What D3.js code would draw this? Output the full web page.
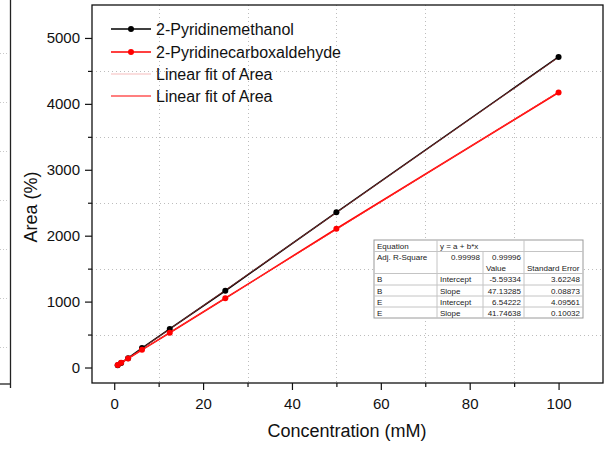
<!DOCTYPE html>
<html>
<head>
<meta charset="utf-8">
<script src="https://cdn.jsdelivr.net/npm/d3@7"></script>
<style>
	body { margin: 0; background: #fff; }
	svg { display: block; font-family: Arial, 'Liberation Sans', sans-serif; }
</style>
</head>
<body>
<div id="chart_div"></div>
<script>
// data
var concentrations = [0.78, 1.56, 3.125, 6.25, 12.5, 25, 50, 100];
var methanol_area = [35, 70, 142, 295, 585, 1165, 2355, 4712];
var aldehyde_area = [39, 72, 137, 268, 528, 1050, 2106, 4173];
var series_names = ['2-Pyridinemethanol', '2-Pyridinecarboxaldehyde'];
var fit_names = ['Linear fit of Area', 'Linear fit of Area'];
var fit_intercepts = [-5.59334, 6.54222];
var fit_slopes = [47.13285, 41.74638];
var x_ticks = [0, 20, 40, 60, 80, 100];
var x_minor = [10, 30, 50, 70, 90];
var y_ticks = [0, 1000, 2000, 3000, 4000, 5000];
var y_minor = [500, 1500, 2500, 3500, 4500];
var table_rows = [
	['Equation', 'y = a + b*x', '', ''],
	['Adj. R-Square', '0.99998', '0.99996', ''],
	['', '', 'Value', 'Standard Error'],
	['B', 'Intercept', '-5.59334', '3.62248'],
	['B', 'Slope', '47.13285', '0.08873'],
	['E', 'Intercept', '6.54222', '4.09561'],
	['E', 'Slope', '41.74638', '0.10032']
];

var width = 604;
var height = 450;
var frame = { left: 92, top: 5, right: 603, bottom: 383 };

var svg = d3
	.select('#chart_div')
	.append('svg')
	.attr('width', width)
	.attr('height', height);

var x = d3.scaleLinear().domain([-5, 110]).range([frame.left, frame.right]);
var y = d3.scaleLinear().domain([-235, 5500]).range([frame.bottom, frame.top]);

draw_side_panel(svg);
draw_grid(svg);
draw_axes(svg);
draw_series(svg);
draw_legend(svg);
draw_table(svg);

function draw_side_panel(svg) {
	//edge of the neighbouring panel
	svg.append('g')
		.selectAll('line')
		.data(d3.range(53, 350, 49))
		.enter()
		.append('line')
		.attr('x1', 0)
		.attr('x2', 9)
		.attr('y1', (d) => d + 0.5)
		.attr('y2', (d) => d + 0.5)
		.attr('stroke', '#c8c8c8')
		.attr('stroke-dasharray', '1,2');
	svg.append('line')
		.attr('x1', 10.5)
		.attr('x2', 10.5)
		.attr('y1', 0)
		.attr('y2', 388)
		.attr('stroke', '#222')
		.attr('stroke-width', 1.3);
	svg.append('line')
		.attr('x1', 0)
		.attr('x2', 10.5)
		.attr('y1', 384)
		.attr('y2', 384)
		.attr('stroke', '#222')
		.attr('stroke-width', 1.3);
}

function draw_grid(svg) {
	var grid = svg.append('g').attr('class', 'grid');
	grid.selectAll('.grid_x')
		.data(x_minor)
		.enter()
		.append('line')
		.attr('x1', (d) => Math.round(x(d)) + 0.5)
		.attr('x2', (d) => Math.round(x(d)) + 0.5)
		.attr('y1', frame.top)
		.attr('y2', frame.bottom)
		.attr('stroke', '#bdbdbd')
		.attr('stroke-dasharray', '1,3');
	grid.selectAll('.grid_y')
		.data(y_minor)
		.enter()
		.append('line')
		.attr('x1', frame.left)
		.attr('x2', frame.right)
		.attr('y1', (d) => Math.round(y(d)) + 0.5)
		.attr('y2', (d) => Math.round(y(d)) + 0.5)
		.attr('stroke', '#bdbdbd')
		.attr('stroke-dasharray', '1,3');
}

function draw_axes(svg) {
	var plain = d3.format('d');
	svg.append('g')
		.attr('transform', 'translate(0,' + frame.bottom + ')')
		.call(d3.axisBottom(x).tickValues(x_ticks).tickFormat(plain).tickSize(7).tickPadding(8));
	svg.append('g')
		.attr('transform', 'translate(0,' + frame.bottom + ')')
		.call(d3.axisBottom(x).tickValues(x_minor).tickSize(4).tickFormat(''));
	svg.append('g')
		.attr('transform', 'translate(' + frame.left + ',0)')
		.call(d3.axisLeft(y).tickValues(y_ticks).tickFormat(plain).tickSize(7).tickPadding(5));
	svg.append('g')
		.attr('transform', 'translate(' + frame.left + ',0)')
		.call(d3.axisLeft(y).tickValues(y_minor).tickSize(4).tickFormat(''));

	svg.selectAll('.domain').remove();
	svg.selectAll('.tick line').attr('stroke', '#111').attr('stroke-width', 1.2);
	svg.selectAll('.tick text')
		.attr('font-family', 'Arial, Liberation Sans, sans-serif')
		.attr('font-size', 15)
		.attr('fill', '#111');

	svg.append('rect')
		.attr('x', frame.left)
		.attr('y', frame.top)
		.attr('width', frame.right - frame.left)
		.attr('height', frame.bottom - frame.top)
		.attr('fill', 'none')
		.attr('stroke', '#111')
		.attr('stroke-width', 1.3);

	svg.append('text')
		.attr('x', 347)
		.attr('y', 437)
		.attr('text-anchor', 'middle')
		.attr('font-size', 18)
		.attr('fill', '#111')
		.text('Concentration (mM)');

	svg.append('text')
		.attr('transform', 'translate(36.5,207) rotate(-90)')
		.attr('text-anchor', 'middle')
		.attr('font-size', 18)
		.attr('fill', '#111')
		.text('Area (%)');
}

function draw_series(svg) {
	var line = d3
		.line()
		.x((d) => x(d[0]))
		.y((d) => y(d[1]));
	var all_series = [
		{ values: methanol_area, colour: '#000000', fit_colour: '#b03a3a', fit_width: 0.7 },
		{ values: aldehyde_area, colour: '#ff0000', fit_colour: '#ff2a2a', fit_width: 1 }
	];
	all_series.forEach(function (s, i) {
		var points = concentrations.map((c, j) => [c, s.values[j]]);
		svg.append('path')
			.datum(points)
			.attr('d', line)
			.attr('fill', 'none')
			.attr('stroke', s.colour)
			.attr('stroke-width', 1.6);
		var x_ends = d3.extent(concentrations);
		var fit_points = x_ends.map((c) => [c, fit_intercepts[i] + fit_slopes[i] * c]);
		svg.append('path')
			.datum(fit_points)
			.attr('d', line)
			.attr('fill', 'none')
			.attr('stroke', s.fit_colour)
			.attr('stroke-width', s.fit_width);
		svg.append('g')
			.selectAll('circle')
			.data(points)
			.enter()
			.append('circle')
			.attr('cx', (d) => x(d[0]))
			.attr('cy', (d) => y(d[1]))
			.attr('r', 3)
			.attr('fill', s.colour);
	});
}

function draw_legend(svg) {
	var legend_items = [
		{ name: series_names[0], colour: '#000000', width: 1.6, marker: true },
		{ name: series_names[1], colour: '#ff0000', width: 1.6, marker: true },
		{ name: fit_names[0], colour: '#f3aaaa', width: 0.8, marker: false },
		{ name: fit_names[1], colour: '#ff5555', width: 1.4, marker: false }
	];
	var row_y = [29, 52, 74, 96];
	var legend = svg
		.append('g')
		.selectAll('g')
		.data(legend_items)
		.enter()
		.append('g')
		.attr('transform', (d, i) => 'translate(0,' + row_y[i] + ')');
	legend.append('line')
		.attr('x1', 111)
		.attr('x2', 151)
		.attr('stroke', (d) => d.colour)
		.attr('stroke-width', (d) => d.width);
	legend.filter((d) => d.marker)
		.append('circle')
		.attr('cx', 131)
		.attr('r', 3)
		.attr('fill', (d) => d.colour);
	legend.append('text')
		.attr('x', 156)
		.attr('y', 6)
		.attr('font-size', 16)
		.attr('fill', '#111')
		.text((d) => d.name);
}

function draw_table(svg) {
	var col_x = [374, 437, 483, 524, 583];
	var row_y = [240, 251.5, 262.5, 273.5, 285, 296, 307, 318];
	var table = svg.append('g').attr('class', 'fit_table');
	table.append('rect')
		.attr('x', col_x[0])
		.attr('y', row_y[0])
		.attr('width', col_x[4] - col_x[0])
		.attr('height', row_y[7] - row_y[0])
		.attr('fill', '#fff')
		.attr('stroke', '#9a9a9a');
	//horizontal rules, none between rows 2 and 3
	table.selectAll('.h_rule')
		.data([1, 3, 4, 5, 6])
		.enter()
		.append('line')
		.attr('x1', col_x[0])
		.attr('x2', col_x[4])
		.attr('y1', (d) => row_y[d])
		.attr('y2', (d) => row_y[d])
		.attr('stroke', '#c4c4c4');
	table.selectAll('.v_rule')
		.data([
			[1, 0],
			[2, 1],
			[3, 0]
		])
		.enter()
		.append('line')
		.attr('x1', (d) => col_x[d[0]])
		.attr('x2', (d) => col_x[d[0]])
		.attr('y1', (d) => row_y[d[1]])
		.attr('y2', row_y[7])
		.attr('stroke', '#c4c4c4');

	var cells = [];
	table_rows.forEach(function (row, r) {
		row.forEach(function (txt, c) {
			if (txt === '') return;
			var numeric = !isNaN(+txt);
			var tx = col_x[c] + 3;
			var anchor = 'start';
			if (numeric) {
				tx = col_x[c + 1] - 3;
				anchor = 'end';
			}
			cells.push({ text: txt, x: tx, y: (row_y[r] + row_y[r + 1]) / 2 + 3, anchor: anchor });
		});
	});
	table.selectAll('text')
		.data(cells)
		.enter()
		.append('text')
		.attr('x', (d) => d.x)
		.attr('y', (d) => d.y)
		.attr('text-anchor', (d) => d.anchor)
		.attr('font-size', 8)
		.attr('fill', '#222')
		.text((d) => d.text);
}
</script>
</body>
</html>
